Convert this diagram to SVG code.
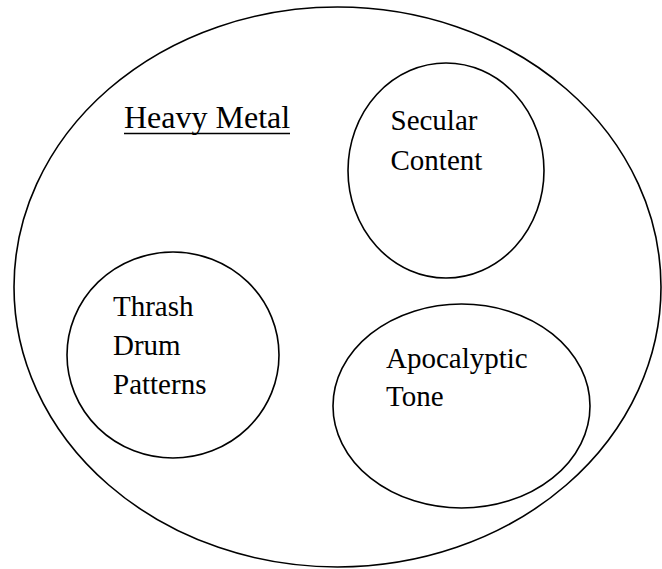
<svg xmlns="http://www.w3.org/2000/svg" width="662" height="569" viewBox="0 0 662 569">
<style>
.c{fill:none;stroke:#000;stroke-width:1.6}
text{font-family:'Liberation Serif','Times New Roman',serif;font-size:29px;fill:#000}
.h{font-size:32px}
</style>
<rect width="662" height="569" fill="#fff"/>
<g id="heavy-metal">
<ellipse class="c" cx="337.5" cy="287" rx="323.5" ry="280"/>
<text class="h" x="124" y="128">Heavy Metal</text>
<line x1="124" y1="133.5" x2="290" y2="133.5" stroke="#000" stroke-width="1.5"/>
</g>
<g id="secular-content">
<ellipse class="c" cx="446" cy="170.5" rx="98" ry="107.5"/>
<text x="390.5" y="130">Secular</text>
<text x="390.5" y="170">Content</text>
</g>
<g id="thrash-drum-patterns">
<ellipse class="c" cx="173" cy="355" rx="106" ry="103"/>
<text x="113" y="316">Thrash</text>
<text x="113" y="355">Drum</text>
<text x="113" y="394">Patterns</text>
</g>
<g id="apocalyptic-tone">
<ellipse class="c" cx="461.5" cy="406" rx="128.5" ry="102"/>
<text x="386" y="368">Apocalyptic</text>
<text x="386" y="406">Tone</text>
</g>
<g id="connectors"></g>
</svg>
